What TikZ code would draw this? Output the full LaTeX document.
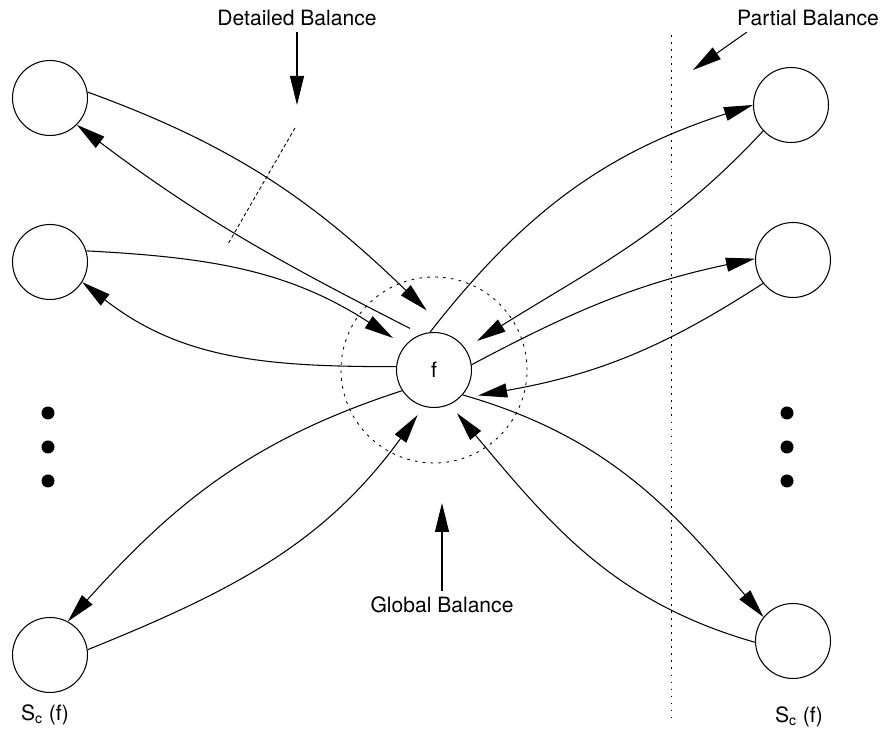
\documentclass[tikz,border=0pt]{standalone}
\usepackage{fontspec}
\setmainfont{TeX Gyre Heros}
\usetikzlibrary{arrows.meta}

\begin{document}
\begin{tikzpicture}[x=0.02cm,y=0.02cm,line width=0.6pt,font=\fontsize{12}{14}\selectfont]
	\tikzset{>={Triangle[length=0.58cm,width=0.28cm]}}
	\tikzset{st/.style={circle,draw,minimum size=1.5cm,inner sep=0pt}}
	\useasboundingbox (0,0) rectangle (883,732);
	
	% states
	\node[st] (L1) at (50,634) {};
	\node[st] (L2) at (50,470) {};
	\node[st] (L3) at (50,77) {};
	\node[st] (R1) at (791,627) {};
	\node[st] (R2) at (793,472) {};
	\node[st] (R3) at (793,91) {};
	\node[st] (F) at (434,362) {f};
	
	\foreach \y in {319,285,251}{
	\fill (48,\y) circle (6.5);
	\fill (787,\y) circle (6.5);
	}
	
	% balance ring and border
	\draw[dash pattern=on 1.5pt off 3pt,line width=0.5pt] (F) circle (93);
	\draw[dash pattern=on 1pt off 3pt,line width=0.5pt] (671,697) -- (671,12);
	\draw[dash pattern=on 2pt off 1.5pt,line width=0.5pt] (295,604) -- (228,488);
	
	% labels
	\node (db) at (297,714) {Detailed Balance};
	\node (pb) at (808,714) {Partial Balance};
	\node (gb) at (442,127) {Global Balance};
	\node (sl) at (45,17) {S\textsubscript{c} (f)};
	\node (sr) at (799,15) {S\textsubscript{c} (f)};
	
	\coordinate (dt) at (297,627);
	\coordinate (pt) at (693,662);
	\coordinate (gt) at (442,229);
	\draw[->] (db.south) -- (dt);
	\draw[->] ([xshift=0.32cm]pb.south west) -- (pt);
	\draw[->] (gb.north) -- (gt);
	
	% ends near f
	\coordinate (fa) at ([shift={(97:60)}]F);
	\coordinate (fb) at ([shift={(120:48)}]F);
	\coordinate (fc) at ([shift={(142:52)}]F);
	\coordinate (fe) at ([shift={(250:48)}]F);
	\coordinate (f1) at ([shift={(34:52)}]F);
	\coordinate (f2) at ([shift={(-30:51)}]F);
	\coordinate (f3) at ([shift={(-62:49)}]F);
	
	% transitions
	\draw[->] (L1.9) to[out=-20,in=136] (fa);
	\draw[->] (fb) to[out=153,in=-37] (L1.-45);
	\draw[->] (L2.17) to[out=-3,in=147] (fc);
	\draw[->] (F.175) to[out=180,in=-38] (L2.-32);
	\draw[->] (L3.8) to[out=22,in=-126] (fe);
	\draw[->] (F.213) to[out=198,in=48] (L3.62);
	\draw[->] (F.96) to[out=52,in=-162] (R1.180);
	\draw[->] (R1.223) to[out=227,in=32] (f1);
	\draw[->] (F.8) to[out=28,in=-168] (R2.178);
	\draw[->] (R2.218) to[out=213,in=10] (f2);
	\draw[->] (F.-41) to[out=-16,in=130] (R3.141);
	\draw[->] (R3.182) to[out=164,in=-50] (f3);
	
\end{tikzpicture}
\end{document}
